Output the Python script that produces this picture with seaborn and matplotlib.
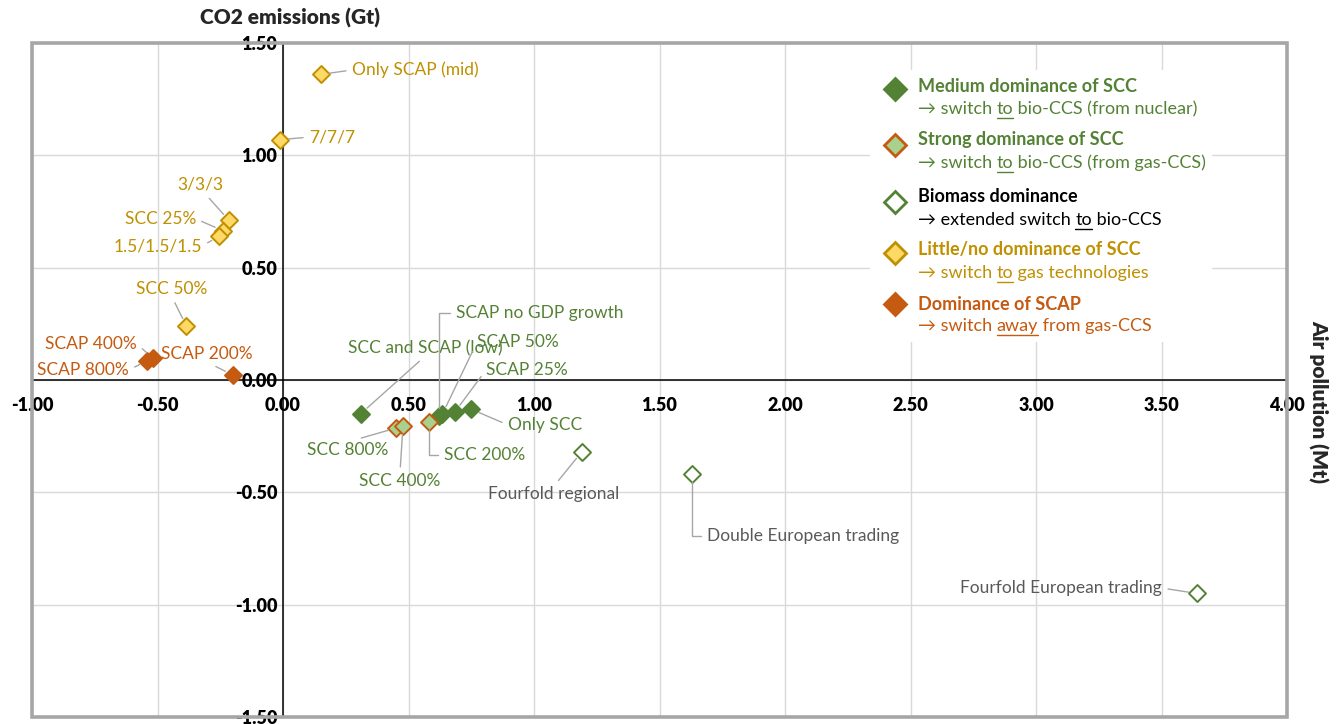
import matplotlib
matplotlib.use("Agg")
import matplotlib.pyplot as plt
import seaborn as sns
import numpy as np
import pandas as pd
from matplotlib.patches import Rectangle
from matplotlib.lines import Line2D

# ---------------- data ----------------
medium_names = ["SCC and SCAP (low)", "SCAP no GDP growth", "SCAP 50%", "SCAP 25%", "Only SCC"]
medium_x = [0.31, 0.62, 0.635, 0.685, 0.75]
medium_y = [-0.15, -0.16, -0.152, -0.142, -0.13]

strong_names = ["SCC 800%", "SCC 400%", "SCC 200%"]
strong_x = [0.45, 0.478, 0.582]
strong_y = [-0.214, -0.205, -0.187]

biomass_names = ["Fourfold regional", "Double European trading", "Fourfold European trading"]
biomass_x = [1.19, 1.63, 3.64]
biomass_y = [-0.32, -0.418, -0.95]

little_names = ["Only SCAP (mid)", "7/7/7", "3/3/3", "SCC 25%", "1.5/1.5/1.5", "SCC 50%"]
little_x = [0.15, -0.01, -0.215, -0.24, -0.255, -0.385]
little_y = [1.36, 1.07, 0.71, 0.665, 0.64, 0.24]

scap_names = ["SCAP 400%", "SCAP 800%", "SCAP 200%"]
scap_x = [-0.518, -0.54, -0.2]
scap_y = [0.097, 0.086, 0.022]

x_ticks = [-1.0, -0.5, 0.0, 0.5, 1.0, 1.5, 2.0, 2.5, 3.0, 3.5, 4.0]
y_ticks = [-1.5, -1.0, -0.5, 0.0, 0.5, 1.0, 1.5]

legend_titles = ["Medium dominance of SCC", "Strong dominance of SCC", "Biomass dominance",
                 "Little/no dominance of SCC", "Dominance of SCAP"]
legend_sub = [("\u2192 switch ", "to", " bio-CCS (from nuclear)"),
              ("\u2192 switch ", "to", " bio-CCS (from gas-CCS)"),
              ("\u2192 extended switch ", "to", " bio-CCS"),
              ("\u2192 switch ", "to", " gas technologies"),
              ("\u2192 switch ", "away", " from gas-CCS")]

# ---------------- styles ----------------
GREEN = "#548235"
LGREEN = "#a9d18e"
ORANGE = "#c55a11"
GOLD = "#bf9000"
YELLOW = "#ffd966"
GREY_TXT = "#595959"
LEADER = "#a6a6a6"

groups = [
    # names, x, y, face, edge, label colour
    (medium_names, medium_x, medium_y, GREEN, GREEN, GREEN),
    (strong_names, strong_x, strong_y, LGREEN, ORANGE, GREEN),
    (biomass_names, biomass_x, biomass_y, "white", GREEN, GREY_TXT),
    (little_names, little_x, little_y, YELLOW, GOLD, GOLD),
    (scap_names, scap_x, scap_y, ORANGE, ORANGE, ORANGE),
]
legend_face = [GREEN, LGREEN, "white", YELLOW, ORANGE]
legend_edge = [GREEN, ORANGE, GREEN, GOLD, ORANGE]
legend_col = [GREEN, GREEN, "black", GOLD, ORANGE]

# label layout: name -> (tx, ty, ha, relpos, connection)
layout = {
    "Only SCAP (mid)": (0.275, 1.38, "left", (0, 0.5), None),
    "7/7/7": (0.104, 1.081, "left", (0, 0.5), None),
    "3/3/3": (-0.331, 0.868, "center", (0.6, 0), None),
    "SCC 25%": (-0.347, 0.717, "right", (1, 0.5), None),
    "1.5/1.5/1.5": (-0.323, 0.596, "right", (1, 0.5), None),
    "SCC 50%": (-0.442, 0.405, "center", (0.5, 0), None),
    "SCAP 400%": (-0.582, 0.16, "right", (1, 0.5), None),
    "SCAP 800%": (-0.614, 0.045, "right", (1, 0.5), None),
    "SCAP 200%": (-0.486, 0.116, "left", (0.5, 0), None),
    "SCAP no GDP growth": (0.689, 0.298, "left", (0, 0.5), "angle,angleA=0,angleB=90,rad=0"),
    "SCC and SCAP (low)": (0.566, 0.142, "center", (0.5, 0), None),
    "SCAP 50%": (0.773, 0.169, "left", (0, 0.5), None),
    "SCAP 25%": (0.809, 0.045, "left", (0, 0.5), None),
    "Only SCC": (0.896, -0.2, "left", (0, 0.5), None),
    "SCC 800%": (0.418, -0.312, "right", (0.5, 1), None),
    "SCC 400%": (0.466, -0.449, "center", (0.5, 1), None),
    "SCC 200%": (0.641, -0.334, "left", (0, 0.5), "angle,angleA=0,angleB=90,rad=0"),
    "Fourfold regional": (1.08, -0.507, "center", (0.5, 1), None),
    "Double European trading": (1.689, -0.694, "left", (0, 0.5), "angle,angleA=0,angleB=90,rad=0"),
    "Fourfold European trading": (3.502, -0.926, "right", (1, 0.5), None),
}

sns.set_style("white")
FONT = ["Lato", "DejaVu Sans"]
plt.rcParams["font.family"] = FONT

W, H = 1338, 724
fig = plt.figure(figsize=(W / 100, H / 100), dpi=100)


def fx(px):
    return px / W


def fy(py):
    return 1 - py / H


ax = fig.add_axes([fx(32), fy(717), fx(1287) - fx(32), fy(43) - fy(717)])
ax.set_xlim(-1, 4)
ax.set_ylim(-1.5, 1.5)
ax.set_axisbelow(True)
ax.grid(True, color="#d9d9d9", lw=1.0)

for sp in ["top", "right"]:
    ax.spines[sp].set_visible(False)
for sp in ["left", "bottom"]:
    ax.spines[sp].set_position(("data", 0))
    ax.spines[sp].set_color("black")
    ax.spines[sp].set_linewidth(1.1)
    ax.spines[sp].set_zorder(1.5)

ax.set_xticks(x_ticks)
ax.set_xticklabels([f"{v:.2f}" for v in x_ticks])
ax.set_yticks(y_ticks)
ax.set_yticklabels([f"{v:.2f}" for v in y_ticks])
ax.tick_params(axis="x", length=0, pad=12, labelsize=13)
ax.tick_params(axis="y", length=0, pad=4, labelsize=13)
for lab in ax.get_xticklabels() + ax.get_yticklabels():
    lab.set_fontweight("heavy")
    lab.set_color("black")

ax.add_patch(Rectangle((0, 0), 1, 1, transform=ax.transAxes, fill=False,
                       edgecolor="#a6a6a6", lw=2.6, clip_on=False, zorder=4))

for names, xs, ys, face, edge, lcol in groups:
    df = pd.DataFrame({"x": xs, "y": ys, "name": names})
    sns.scatterplot(data=df, x="x", y="y", marker="D", s=75, color=face,
                    edgecolor=edge, linewidth=1.4, ax=ax, zorder=3, legend=False)
    for n, px_, py_ in zip(names, xs, ys):
        tx, ty, ha, rp, cs = layout[n]
        ap = dict(arrowstyle="-", color=LEADER, lw=1.0, shrinkA=2, shrinkB=6, relpos=rp)
        if cs:
            ap["connectionstyle"] = cs
        ax.annotate(n, xy=(px_, py_), xytext=(tx, ty), ha=ha, va="center",
                    color=lcol, fontsize=12.5, arrowprops=ap, zorder=3)

ax.set_xlabel("")
ax.set_ylabel("")

fig.text(fx(290), fy(18), "CO2 emissions (Gt)", ha="center", va="center",
         fontsize=15, fontweight="heavy")
fig.text(fx(1318), fy(402), "Air pollution (Mt)", ha="center", va="center",
         fontsize=15, fontweight="heavy", rotation=-90)

# ---------------- legend ----------------
fig.add_artist(Rectangle((fx(870), fy(342)), fx(1212) - fx(870), fy(70) - fy(342),
                         transform=fig.transFigure, facecolor="white", edgecolor="none",
                         zorder=5))
mark_y = [89, 145, 202, 253, 304]
title_y = [87, 140, 196, 250, 305]
sub_y = [109, 163, 220, 273, 326]
fig.canvas.draw()
renderer = fig.canvas.get_renderer()
for i in range(5):
    fig.add_artist(Line2D([fx(895)], [fy(mark_y[i])], marker="D", markersize=11,
                          markerfacecolor=legend_face[i], markeredgecolor=legend_edge[i],
                          markeredgewidth=2.0, linestyle="none",
                          transform=fig.transFigure, zorder=6))
    fig.text(fx(918), fy(title_y[i]), legend_titles[i], ha="left", va="center",
             fontsize=13, fontweight="bold", color=legend_col[i], zorder=6)
    xcur = 918
    for j, part in enumerate(legend_sub[i]):
        t = fig.text(fx(xcur), fy(sub_y[i]), part, ha="left", va="center",
                     fontsize=13, color=legend_col[i], zorder=6)
        bb = t.get_window_extent(renderer)
        if j == 1:
            fig.add_artist(Line2D([bb.x0 / W, bb.x1 / W], [fy(sub_y[i] + 9)] * 2,
                                  color=legend_col[i], lw=1.0,
                                  transform=fig.transFigure, zorder=6))
        xcur = bb.x1

fig.savefig("out.png", dpi=100)
